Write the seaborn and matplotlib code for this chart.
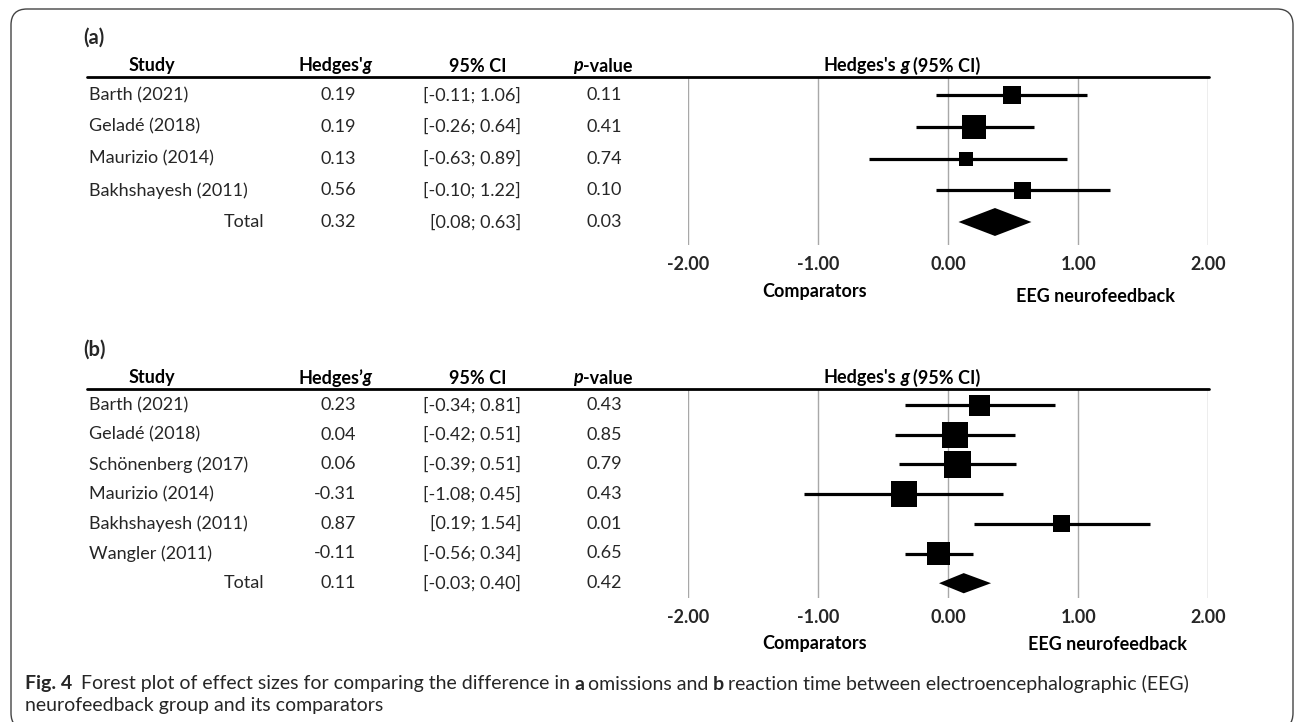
import matplotlib
matplotlib.use("Agg")
import matplotlib.pyplot as plt
import seaborn as sns
import pandas as pd
from matplotlib.lines import Line2D
from matplotlib.patches import FancyBboxPatch
from matplotlib.transforms import blended_transform_factory

# ---- panel (a): omissions ----
studies_a = ["Barth (2021)", "Geladé (2018)", "Maurizio (2014)", "Bakhshayesh (2011)"]
g_text_a = ["0.19", "0.19", "0.13", "0.56", "0.32"]
ci_text_a = ["[-0.11; 1.06]", "[-0.26; 0.64]", "[-0.63; 0.89]", "[-0.10; 1.22]", "[0.08; 0.63]"]
p_text_a = ["0.11", "0.41", "0.74", "0.10", "0.03"]
# effect sizes as drawn in the forest plot
est_a = [0.49, 0.20, 0.14, 0.57]
lo_a = [-0.09, -0.25, -0.61, -0.09]
hi_a = [1.07, 0.66, 0.91, 1.24]
weight_a = [18, 24, 14, 17]          # box side (px), study weight
total_a = [0.08, 0.36, 0.64]          # low, estimate, high

# ---- panel (b): reaction time ----
studies_b = ["Barth (2021)", "Geladé (2018)", "Schönenberg (2017)", "Maurizio (2014)",
             "Bakhshayesh (2011)", "Wangler (2011)"]
g_text_b = ["0.23", "0.04", "0.06", "-0.31", "0.87", "-0.11", "0.11"]
ci_text_b = ["[-0.34; 0.81]", "[-0.42; 0.51]", "[-0.39; 0.51]", "[-1.08; 0.45]",
             "[0.19; 1.54]", "[-0.56; 0.34]", "[-0.03; 0.40]"]
p_text_b = ["0.43", "0.85", "0.79", "0.43", "0.01", "0.65", "0.42"]
est_b = [0.24, 0.05, 0.07, -0.34, 0.87, -0.07]
lo_b = [-0.33, -0.41, -0.38, -1.11, 0.20, -0.33]
hi_b = [0.82, 0.51, 0.52, 0.42, 1.55, 0.19]
weight_b = [21, 26, 27, 26, 17, 23]
total_b = [-0.07, 0.12, 0.33]

x_ticks = [-2, -1, 0, 1, 2]

W, H = 1295, 722
sns.set_style("white")
plt.rcParams["font.family"] = ["Lato", "DejaVu Sans"]
FS = 13

fig = plt.figure(figsize=(W / 100, H / 100), dpi=100)
renderer = fig.canvas.get_renderer()


def fy(py):
    return 1 - py / H


def rich(x_px, y_px, parts, ha="left", size=FS, color="black"):
    # parts: (text, weight, style, gap after in px)
    arts = []
    for txt, wt, st, gap in parts:
        t = fig.text(0, fy(y_px), txt, fontsize=size, fontweight=wt, fontstyle=st,
                     va="center", ha="left", color=color)
        arts.append((t, t.get_window_extent(renderer).width, gap))
    total = sum(w + g for _, w, g in arts) - arts[-1][2]
    x = x_px - (total / 2 if ha == "center" else 0)
    for t, w, g in arts:
        t.set_x(x / W)
        x += w + g


def panel(label, top, bottom, row0, step, studies, g_txt, ci_txt, p_txt,
          est, lo, hi, weight, total, diamond_h, apos, lab_y, eeg_x, eeg_dy):
    left, right = 687.7, 1208.5
    ax = fig.add_axes([left / W, 1 - bottom / H, (right - left) / W, (bottom - top) / H])
    rows = list(range(len(studies)))
    df = pd.DataFrame({"est": est, "row": rows,
                       "area": [(w * 0.72) ** 2 for w in weight]})
    ax.hlines(df["row"], lo, hi, color="black", lw=2.3, zorder=3)
    sns.scatterplot(data=df, x="est", y="row", size="area",
                    sizes=(df["area"].min(), df["area"].max()),
                    size_norm=(df["area"].min(), df["area"].max()),
                    marker="s", color="black", linewidth=0, legend=False,
                    ax=ax, zorder=4)
    tr = len(studies)
    ax.fill([total[0], total[1], total[2], total[1]],
            [tr, tr - diamond_h, tr, tr + diamond_h], color="black", lw=0, zorder=4)
    ax.set_xlim(-2, 2)
    ax.set_ylim((bottom - row0) / step, (top - row0) / step)
    ax.set_xticks(x_ticks)
    ax.set_xticklabels([f"{v:.2f}" for v in x_ticks], fontweight="bold", fontsize=FS)
    ax.set_yticks([])
    ax.set_xlabel("")
    ax.set_ylabel("")
    ax.grid(axis="x", color="#a8a8a8", lw=1.0)
    ax.set_axisbelow(True)
    for s in ax.spines.values():
        s.set_visible(False)
    ax.tick_params(axis="x", length=0, pad=8)

    # table text
    trans = blended_transform_factory(fig.transFigure, ax.transData)
    for i, name in enumerate(studies + ["Total"]):
        if name == "Total":
            fig.text(264 / W, i, name, transform=trans, ha="right", va="center", fontsize=FS)
        else:
            fig.text(89 / W, i, name, transform=trans, ha="left", va="center", fontsize=FS)
        fig.text(356 / W, i, g_txt[i], transform=trans, ha="right", va="center", fontsize=FS)
        fig.text(521 / W, i, ci_txt[i], transform=trans, ha="right", va="center", fontsize=FS)
        fig.text(622 / W, i, p_txt[i], transform=trans, ha="right", va="center", fontsize=FS)

    # headers
    hy = top - 11
    fig.text(83 / W, fy(top - 39), label, fontsize=14.5, fontweight="bold", va="center")
    rich(152, hy, [("Study", "bold", "normal", 0)], ha="center")
    rich(335, hy, [("Hedges" + apos, "bold", "normal", 0), ("g", "bold", "italic", 0)], ha="center")
    rich(478, hy, [("95% CI", "bold", "normal", 0)], ha="center")
    rich(603, hy, [("p", "bold", "italic", 0), ("-value", "bold", "normal", 0)], ha="center")
    rich(902, hy, [("Hedges's", "bold", "normal", 4), ("g", "bold", "italic", 4),
                   ("(95% CI)", "bold", "normal", 0)], ha="center")
    fig.add_artist(Line2D([87 / W, 1209 / W], [fy(top), fy(top)], color="black", lw=2.0,
                          transform=fig.transFigure))
    rich(815, lab_y, [("Comparators", "bold", "normal", 0)], ha="center")
    rich(eeg_x, lab_y + eeg_dy, [("EEG neurofeedback", "bold", "normal", 0)], ha="center")
    return ax


panel("(a)", 77, 245, 95, 31.75, studies_a, g_text_a, ci_text_a, p_text_a,
      est_a, lo_a, hi_a, weight_a, total_a, 0.44, "'", 292, 1095, 5)
panel("(b)", 389, 598, 405, 29.7, studies_b, g_text_b, ci_text_b, p_text_b,
      est_b, lo_b, hi_b, weight_b, total_b, 0.34, "\u2019", 644, 1107, 0)

# caption
cap = "#262626"
rich(25, 684, [("Fig. 4", "bold", "normal", 9),
               ("Forest plot of effect sizes for comparing the difference in", "normal", "normal", 4),
               ("a", "bold", "normal", 4),
               ("omissions and", "normal", "normal", 4),
               ("b", "bold", "normal", 4),
               ("reaction time between electroencephalographic (EEG)", "normal", "normal", 0)],
     size=14, color=cap)
rich(25, 705, [("neurofeedback group and its comparators", "normal", "normal", 0)], size=14, color=cap)

# rounded frame (bottom edge runs off the page)
frame = FancyBboxPatch((0.11, -0.07), 12.82, 7.20, boxstyle="round,pad=0,rounding_size=0.16",
                       transform=fig.dpi_scale_trans, fill=False, edgecolor="#444444",
                       lw=1.0, clip_on=False)
fig.add_artist(frame)

fig.savefig("out.png", dpi=100)
